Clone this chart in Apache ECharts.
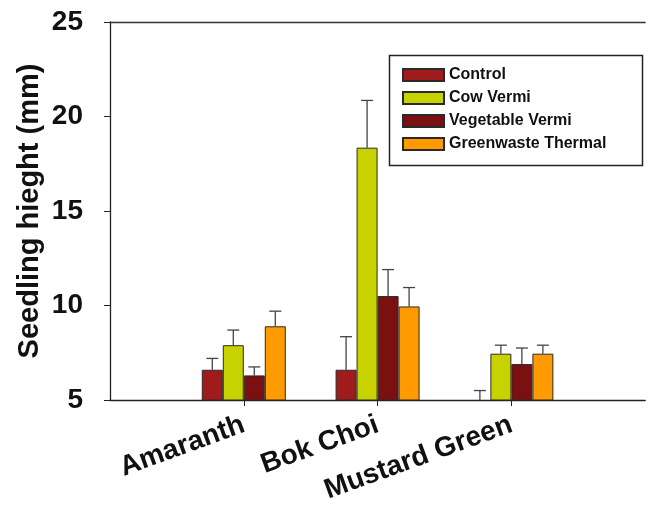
<!DOCTYPE html>
<html>
<head>
<meta charset="utf-8">
<script src="https://cdn.jsdelivr.net/npm/echarts@6/dist/echarts.min.js"></script>
<style>
  html, body { margin: 0; padding: 0; background: #fff; }
  #chart { width: 648px; height: 506px; }
</style>
</head>
<body>
<div id="chart"></div>
<script>
// crops and treatments
const categories = ['Amaranth', 'Bok Choi', 'Mustard Green'];
const treatments = ['Control', 'Cow Vermi', 'Vegetable Vermi', 'Greenwaste Thermal'];
const colors = ['#A01C1C', '#C8D200', '#7A1010', '#FF9A00'];

// mean heights (mm)
const control = [6.6, 6.6, 5.0];
const cowVermi = [7.9, 18.35, 7.45];
const vegVermi = [6.3, 10.5, 6.9];
const greenThermal = [8.9, 9.95, 7.45];

// top of error bar (mm)
const controlErr = [7.2, 8.35, 5.5];
const cowVermiErr = [8.7, 20.85, 7.9];
const vegVermiErr = [6.75, 11.9, 7.75];
const greenThermalErr = [9.7, 10.95, 7.9];

const yTicks = [5, 10, 15, 20, 25];

const means = [control, cowVermi, vegVermi, greenThermal];
const errs = [controlErr, cowVermiErr, vegVermiErr, greenThermalErr];

// empty slot at both ends so the crops sit 1/4, 2/4, 3/4 across
const axisData = [''].concat(categories, ['']);
const pad = arr => [null].concat(arr, [null]);

const barW = 21;
const font = '"Liberation Sans", Arial, sans-serif';

const series = [];
treatments.forEach((name, i) => {
    series.push({
        name: name,
        type: 'bar',
        barWidth: barW,
        barGap: '0%',
        data: pad(means[i]),
        itemStyle: { color: colors[i], borderColor: '#2a2a2a', borderWidth: 1 },
        emphasis: { disabled: true }
    });
});
treatments.forEach((name, i) => {
    const offset = (i - 1.5) * barW;
    series.push({
        name: name + ' err',
        type: 'custom',
        z: 1,
        data: categories.map((c, k) => [k + 1, means[i][k], errs[i][k]]),
        renderItem: function (params, api) {
            const lo = api.coord([api.value(0), api.value(1)]);
            const hi = api.coord([api.value(0), api.value(2)]);
            const x = lo[0] + offset;
            const style = { stroke: '#444', lineWidth: 1.3 };
            return {
                type: 'group',
                children: [
                    { type: 'line', shape: { x1: x, y1: lo[1], x2: x, y2: hi[1] }, style: style },
                    { type: 'line', shape: { x1: x - 6, y1: hi[1], x2: x + 6, y2: hi[1] }, style: style }
                ]
            };
        }
    });
});

const chart = echarts.init(document.getElementById('chart'));
chart.setOption({
    animation: false,
    backgroundColor: '#fff',
    grid: { left: 110, right: 1, top: 22, bottom: 106 },
    legend: {
        data: treatments,
        orient: 'vertical',
        left: 397,
        top: 62,
        icon: 'rect',
        itemWidth: 41,
        itemHeight: 12,
        itemGap: 7,
        textStyle: { fontFamily: font, fontWeight: 'bold', fontSize: 16, color: '#111' },
        selectedMode: false
    },
    graphic: [{
        type: 'rect',
        left: 387,
        top: 53,
        shape: { width: 253, height: 110 },
        style: { fill: 'none', stroke: '#222', lineWidth: 1.5 },
        z: -1
    }],
    xAxis: [{
        type: 'category',
        data: axisData,
        boundaryGap: false,
        axisLine: { lineStyle: { color: '#222', width: 1.3 } },
        axisTick: {
            length: 6,
            lineStyle: { color: '#222' },
            interval: (idx) => idx > 0 && idx < axisData.length - 1
        },
        axisLabel: {
            rotate: 20,
            margin: 24,
            interval: 0,
            fontFamily: font,
            fontWeight: 'bold',
            fontSize: 28,
            color: '#111'
        }
    }, {
        type: 'category',
        position: 'top',
        data: axisData,
        boundaryGap: false,
        axisLine: { lineStyle: { color: '#333', width: 1.3 } },
        axisTick: { show: false },
        axisLabel: { show: false }
    }],
    yAxis: {
        type: 'value',
        min: yTicks[0],
        max: yTicks[yTicks.length - 1],
        interval: 5,
        name: 'Seedling hieght (mm)',
        nameLocation: 'middle',
        nameGap: 66,
        nameMoveOverlap: false,
        nameTextStyle: { fontFamily: font, fontWeight: 'bold', fontSize: 29, color: '#111' },
        splitLine: { show: false },
        axisLine: { show: true, lineStyle: { color: '#222', width: 1.3 } },
        axisTick: { show: true, length: 6, lineStyle: { color: '#222' } },
        axisLabel: { margin: 27, fontFamily: font, fontWeight: 'bold', fontSize: 28, color: '#111' }
    },
    series: series
});
</script>
</body>
</html>
